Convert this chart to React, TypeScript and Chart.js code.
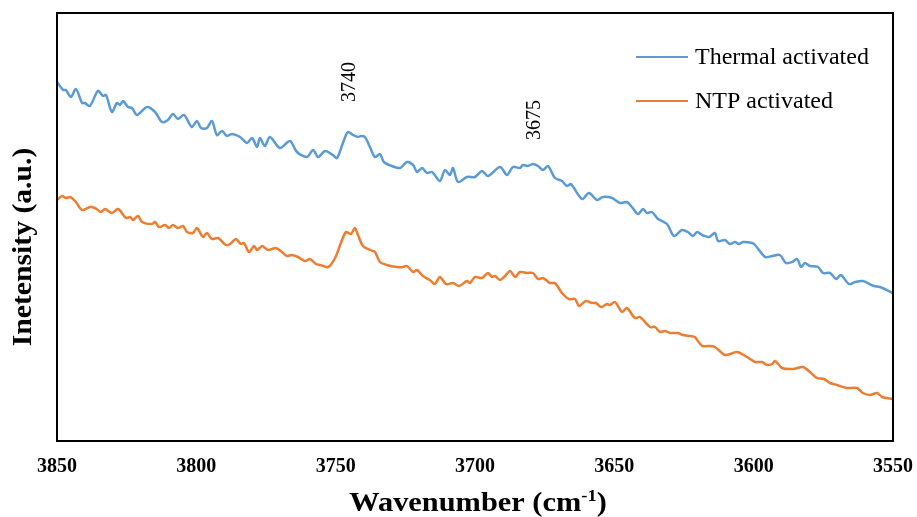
import React, { useEffect, useRef } from "react";
import { Chart, registerables } from "chart.js";

Chart.register(...registerables);

// Wavenumber tick labels (cm-1)
const xTicks = [3850, 3800, 3750, 3700, 3650, 3600, 3550];

// Thermal activated spectrum: wavenumber (cm-1) and intensity (a.u.)
const thermalWn = [
  3850, 3847.8, 3846.8, 3845.0, 3843.2, 3841.0, 3840.0, 3838.2, 3835.3, 3833.5, 3832.4, 3830.3, 3828.5, 3827.4, 3826.3, 3824.5,
  3823.1, 3821.3, 3817.7, 3814.8, 3812.3, 3810.2, 3808.4, 3806.6, 3804.4, 3801.6, 3799.8, 3798.3, 3796.2, 3794.4, 3792.6, 3790.8,
  3789.0, 3787.2, 3784.3, 3781.8, 3780.0, 3778.2, 3777.2, 3775.4, 3773.6, 3770.0, 3766.4, 3763.9, 3760.3, 3758.1, 3756.3, 3753.8,
  3751.0, 3749.5, 3747.4, 3745.6, 3743.8, 3742.0, 3740.9, 3739.5, 3737.7, 3735.9, 3734.1, 3732.7, 3729.8, 3726.9, 3724.4, 3722.2,
  3720.8, 3719.0, 3717.2, 3715.4, 3712.6, 3710.8, 3709.0, 3707.9, 3706.1, 3702.9, 3700.0, 3697.5, 3695.3, 3691.0, 3688.5, 3686.4,
  3683.9, 3682.8, 3681.0, 3679.2, 3677.4, 3675.6, 3673.8, 3671.3, 3668.8, 3667.0, 3665.6, 3661.6, 3659.1, 3656.2, 3654.1, 3650.8,
  3648.0, 3645.5, 3643.7, 3641.5, 3639.7, 3638.3, 3636.5, 3634.3, 3631.1, 3628.6, 3625.7, 3623.6, 3621.8, 3620.3, 3618.5, 3616.0,
  3613.9, 3612.8, 3610.3, 3608.5, 3606.7, 3605.3, 3603.8, 3600.6, 3599.5, 3595.9, 3593.4, 3590.6, 3588.4, 3586.2, 3584.4, 3583.0,
  3581.6, 3579.8, 3576.9, 3575.1, 3572.6, 3570.4, 3568.7, 3565.8, 3563.6, 3560.8, 3556.8, 3554.7, 3550.0,
];
const thermalI = [
  359, 351, 351, 344, 352, 338, 338, 335, 350, 345, 346, 329, 338, 336, 340, 334,
  333, 326, 334, 329, 319, 321, 327, 322, 326, 314, 320, 313, 313, 320, 306, 310,
  305, 307, 304, 298, 303, 294, 303, 295, 304, 293, 300, 289, 284, 291, 284, 290,
  286, 283, 298, 309, 306, 304, 305, 304, 294, 284, 287, 279, 275, 273, 279, 276,
  269, 273, 268, 269, 260, 271, 266, 273, 259, 264, 264, 270, 265, 274, 266, 274,
  273, 276, 275, 277, 275, 271, 275, 263, 260, 255, 257, 242, 248, 241, 244, 243,
  238, 239, 234, 227, 232, 228, 229, 222, 217, 205, 211, 209, 205, 209, 206, 204,
  208, 200, 201, 197, 199, 197, 199, 198, 196, 184, 185, 186, 178, 179, 182, 174,
  178, 175, 174, 168, 168, 162, 166, 157, 159, 160, 155, 154, 148,
];

// NTP activated spectrum: wavenumber (cm-1) and intensity (a.u.)
const ntpWn = [
  3850, 3848.2, 3846.8, 3845.3, 3843.5, 3841.0, 3838.2, 3836.4, 3834.2, 3832.8, 3830.3, 3828.1, 3825.2, 3823.8, 3822.7, 3820.9,
  3819.5, 3815.9, 3814.8, 3813.4, 3811.2, 3809.8, 3808.4, 3806.6, 3804.8, 3803.3, 3801.2, 3799.8, 3797.6, 3796.2, 3794.4, 3792.2,
  3789.4, 3787.9, 3785.8, 3784.0, 3782.9, 3781.1, 3779.3, 3778.2, 3776.4, 3774.3, 3771.4, 3769.3, 3767.5, 3765.7, 3763.5, 3761.0,
  3759.2, 3757.1, 3755.6, 3752.7, 3750.2, 3748.4, 3746.3, 3744.5, 3743.1, 3742.0, 3740.2, 3737.7, 3735.9, 3734.1, 3731.6, 3728.0,
  3725.8, 3724.4, 3722.2, 3720.8, 3718.7, 3716.2, 3714.4, 3712.6, 3710.4, 3707.9, 3705.7, 3702.9, 3701.8, 3700.0, 3697.5, 3695.3,
  3693.9, 3692.8, 3691.0, 3689.2, 3687.4, 3685.6, 3683.9, 3681.3, 3679.2, 3677.4, 3675.6, 3673.1, 3671.3, 3668.8, 3666.3, 3664.1,
  3662.7, 3660.2, 3658.0, 3656.6, 3654.8, 3652.6, 3651.6, 3649.8, 3647.2, 3645.5, 3642.6, 3640.8, 3637.2, 3635.4, 3633.6, 3631.8,
  3630.0, 3627.2, 3625.4, 3622.8, 3621.1, 3618.5, 3616.4, 3613.9, 3610.3, 3606.0, 3602.4, 3599.5, 3597.0, 3595.2, 3593.4, 3592.3,
  3589.8, 3585.9, 3582.3, 3579.8, 3577.3, 3574.8, 3572.6, 3570.1, 3566.5, 3562.9, 3560.8, 3558.3, 3555.7, 3553.9, 3550.0,
];
const ntpI = [
  241, 245, 243, 244, 240, 231, 234, 233, 229, 232, 228, 232, 223, 224, 221, 225,
  219, 217, 219, 214, 216, 213, 216, 213, 215, 209, 208, 213, 204, 208, 202, 203,
  196, 197, 202, 197, 198, 189, 195, 191, 195, 191, 193, 189, 185, 186, 184, 180,
  182, 177, 176, 174, 183, 196, 209, 207, 213, 206, 195, 191, 189, 179, 176, 174,
  174, 175, 169, 171, 165, 161, 157, 164, 157, 158, 155, 160, 158, 164, 163, 168,
  164, 165, 161, 165, 170, 164, 169, 168, 168, 162, 163, 158, 158, 148, 142, 142,
  135, 140, 138, 138, 134, 137, 136, 139, 129, 133, 123, 124, 114, 114, 109, 110,
  108, 108, 106, 105, 104, 95, 95, 94, 86, 89, 84, 79, 79, 76, 77, 80,
  73, 72, 74, 69, 63, 62, 58, 56, 53, 53, 48, 46, 48, 44, 42,
];

// Peak annotations: label, wavenumber position, intensity position
const peakLabels = ["3740", "3675"];
const peakWn = [3745, 3678.5];
const peakI = [359, 321];

const seriesLabels = ["Thermal activated", "NTP activated"];
const seriesColors = ["#5B9BD5", "#ED7D31"];

const SERIF = '"Liberation Serif", "Times New Roman", serif';

const decorPlugin = {
  id: "decor",
  afterDraw(chart: any) {
    const { ctx, chartArea, scales } = chart;
    const { left, right, top, bottom } = chartArea;
    ctx.save();
    // frame
    ctx.strokeStyle = "#000";
    ctx.lineWidth = 2;
    ctx.strokeRect(left, top, right - left, bottom - top);

    // legend
    ctx.font = `24px ${SERIF}`;
    ctx.textBaseline = "middle";
    ctx.textAlign = "left";
    chart.data.datasets.forEach((ds: any, i: number) => {
      const y = 57 + i * 44;
      ctx.strokeStyle = ds.borderColor;
      ctx.lineWidth = 2;
      ctx.beginPath();
      ctx.moveTo(636, y);
      ctx.lineTo(688, y);
      ctx.stroke();
      ctx.fillStyle = "#000";
      ctx.fillText(ds.label, 695, y + 1);
    });

    // peak annotations
    ctx.font = `20px ${SERIF}`;
    ctx.fillStyle = "#000";
    ctx.textAlign = "center";
    ctx.textBaseline = "middle";
    peakLabels.forEach((lab, i) => {
      const px = scales.x.getPixelForValue(peakWn[i]);
      const py = scales.y.getPixelForValue(peakI[i]);
      ctx.save();
      ctx.translate(px, py);
      ctx.rotate(-Math.PI / 2);
      ctx.fillText(lab, 0, 0);
      ctx.restore();
    });

    // y title
    ctx.save();
    ctx.font = `bold 28px ${SERIF}`;
    ctx.translate(24, 247);
    ctx.rotate(-Math.PI / 2);
    ctx.scale(1.06, 1);
    ctx.textAlign = "center";
    ctx.textBaseline = "middle";
    ctx.fillText("Inetensity (a.u.)", 0, 0);
    ctx.restore();

    // x title with superscript
    const main = "Wavenumber (cm";
    const sup = "-1";
    const close = ")";
    const sx = 1.085;
    ctx.font = `bold 28px ${SERIF}`;
    const w1 = ctx.measureText(main).width;
    const w3 = ctx.measureText(close).width;
    ctx.font = `bold 17px ${SERIF}`;
    const w2 = ctx.measureText(sup).width;
    const total = (w1 + w2 + w3) * sx;
    const x0 = 478 - total / 2;
    const base = 511;
    ctx.save();
    ctx.translate(x0, base);
    ctx.scale(sx, 1);
    ctx.textAlign = "left";
    ctx.textBaseline = "alphabetic";
    ctx.font = `bold 28px ${SERIF}`;
    ctx.fillText(main, 0, 0);
    ctx.font = `bold 17px ${SERIF}`;
    ctx.fillText(sup, w1, -10);
    ctx.font = `bold 28px ${SERIF}`;
    ctx.fillText(close, w1 + w2, 0);
    ctx.restore();
    ctx.restore();
  },
};

export default function App() {
  const ref = useRef<HTMLCanvasElement | null>(null);
  useEffect(() => {
    if (!ref.current) return;
    const mk = (wn: number[], vals: number[]) => wn.map((w, i) => ({ x: w, y: vals[i] }));
    const chart = new Chart(ref.current, {
      type: "line",
      data: {
        datasets: [
          {
            label: seriesLabels[0],
            data: mk(thermalWn, thermalI),
            borderColor: seriesColors[0],
            borderWidth: 2.5,
            pointRadius: 0,
            tension: 0.3,
            fill: false,
          },
          {
            label: seriesLabels[1],
            data: mk(ntpWn, ntpI),
            borderColor: seriesColors[1],
            borderWidth: 2.5,
            pointRadius: 0,
            tension: 0.3,
            fill: false,
          },
        ],
      },
      options: {
        responsive: false,
        animation: false,
        layout: { padding: { left: 57, right: 24, top: 13, bottom: 0 } },
        plugins: { legend: { display: false }, tooltip: { enabled: false } },
        scales: {
          x: {
            type: "linear",
            reverse: true,
            min: 3550,
            max: 3850,
            afterBuildTicks: (scale: any) => {
              scale.ticks = xTicks.map((v) => ({ value: v }));
            },
            afterFit: (scale: any) => {
              scale.height = 76;
              scale.paddingLeft = 0;
              scale.paddingRight = 0;
            },
            grid: { display: false, drawTicks: false },
            border: { display: false },
            ticks: {
              color: "#000",
              padding: 14,
              maxRotation: 0,
              autoSkip: false,
              callback: (v: any) => String(v),
              font: { family: SERIF, size: 20, weight: "bold" },
            },
          },
          y: {
            display: false,
            min: 0,
            max: 428,
          },
        },
      },
      plugins: [decorPlugin],
    });
    return () => chart.destroy();
  }, []);
  return (
    <div style={{ position: "fixed", left: 0, top: 0, width: 917, height: 517, background: "#fff" }}>
      <canvas ref={ref} width={917} height={517} />
    </div>
  );
}
